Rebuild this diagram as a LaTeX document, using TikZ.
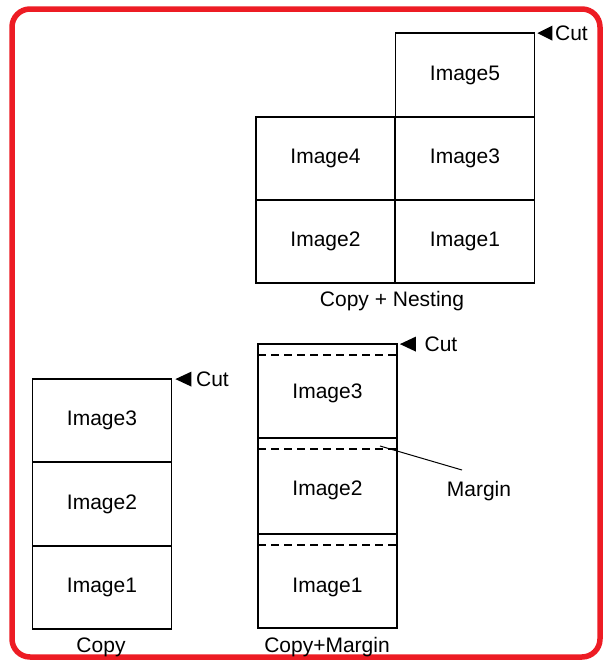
\documentclass[tikz,border=0pt]{standalone}
\usepackage{fontspec}
\setmainfont{Liberation Sans}
\usetikzlibrary{calc}
\definecolor{frame}{RGB}{237,28,36}

\begin{document}
\begin{tikzpicture}[x=1pt, y=-1pt, thick,
    img/.style={draw, line width=1.8pt, minimum width=139pt, inner sep=0pt, font=\fontsize{21}{25}\selectfont},
    lbl/.style={font=\fontsize{21}{25}\selectfont},
    marg/.style={dashed, line width=1.8pt, dash pattern=on 8pt off 5pt}]
  \useasboundingbox (0,0) rectangle (607,662);
  \draw[frame, line width=5.5pt, rounded corners=18pt] (12,9) rectangle (600,657);

  % Copy + Nesting
  \node[img, minimum height=84pt] (n5) at (465,75) {Image5};
  \node[img, minimum height=83pt] (n3) at (465,158.5) {Image3};
  \node[img, minimum height=83pt] (n4) at (325.5,158.5) {Image4};
  \node[img, minimum height=83pt] (n1) at (465,241.5) {Image1};
  \node[img, minimum height=83pt] (n2) at (325.5,241.5) {Image2};
  \node[lbl] (nlbl) at (392,301) {Copy + Nesting};

  % Copy
  \node[img, minimum height=83pt] (c3) at (102,420.5) {Image3};
  \node[img, minimum height=84pt] (c2) at (102,504) {Image2};
  \node[img, minimum height=83pt] (c1) at (102,587.5) {Image1};
  \node[lbl] (clbl) at (101,647) {Copy};

  % Copy+Margin
  \node[img, minimum height=94pt] (m3) at (327.5,391) {};
  \node[img, minimum height=96pt] (m2) at (327.5,486) {};
  \node[img, minimum height=94pt] (m1) at (327.5,581) {};
  \node[lbl] at ($(m3.center)+(0,2)$) {Image3};
  \node[lbl] at ($(m2.center)+(0,4)$) {Image2};
  \node[lbl] at ($(m1.center)+(0,6)$) {Image1};
  \foreach \b in {m3,m2,m1}
    \draw[marg] ($(\b.north west)+(1,12)$) -- ($(\b.north east)+(-1,12)$);
  \node[lbl] (mlbl) at (327,647) {Copy+Margin};

  % Margin leader
  \coordinate (mtip) at (380,446);
  \coordinate (mend) at (462,470);
  \node[lbl] (margin) at (479,491) {Margin};
  \draw[line width=1pt] (mtip) -- (mend);

  % Cut marks
  \fill ($(n5.north east)+(2,1)$) -- ++(15,-7.5) -- ++(0,15) -- cycle;
  \node[lbl, right] (ncut) at ($(n5.north east)+(16,1)$) {Cut};
  \fill ($(c3.north east)+(3,1)$) -- ++(16,-7.5) -- ++(0,15) -- cycle;
  \node[lbl, right] (ccut) at ($(c3.north east)+(20,1)$) {Cut};
  \fill ($(m3.north east)+(2,1)$) -- ++(16,-7.5) -- ++(0,15) -- cycle;
  \node[lbl, right] (mcut) at ($(m3.north east)+(23,1)$) {Cut};
\end{tikzpicture}
\end{document}
